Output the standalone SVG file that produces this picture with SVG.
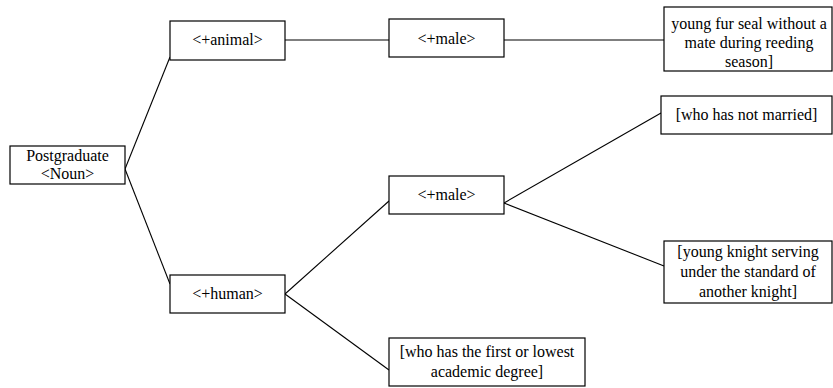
<svg xmlns="http://www.w3.org/2000/svg" width="833" height="388" viewBox="0 0 833 388" font-family="'Liberation Serif', 'Times New Roman', serif">
<defs>
<style>
.box{fill:#fff;stroke:#000;stroke-width:1.2}
.edge{stroke:#000;stroke-width:1.1;fill:none}
text{font-family:'Liberation Serif','Times New Roman',serif;font-size:16px;text-anchor:middle;fill:#000}
</style>
</defs>
<rect width="833" height="388" fill="#fff"/>
<g id="connectors">
<line class="edge" x1="125" y1="169" x2="170" y2="57"/>
<line class="edge" x1="125" y1="169" x2="170" y2="284"/>
<line class="edge" x1="285" y1="40" x2="389" y2="40"/>
<line class="edge" x1="504" y1="40" x2="664" y2="40"/>
<line class="edge" x1="285" y1="294" x2="389" y2="201"/>
<line class="edge" x1="285" y1="294" x2="389" y2="370"/>
<line class="edge" x1="504" y1="203" x2="661" y2="113"/>
<line class="edge" x1="504" y1="203" x2="664" y2="266"/>
</g>
<g id="postgraduate">
<rect class="box" x="10" y="146" width="115" height="38"/>
<text x="67.5" y="161">Postgraduate</text>
<text x="67.5" y="179">&lt;Noun&gt;</text>
</g>
<g id="animal">
<rect class="box" x="170" y="21" width="115" height="39"/>
<text x="227.5" y="45">&lt;+animal&gt;</text>
</g>
<g id="male-animal">
<rect class="box" x="389" y="19" width="115" height="38"/>
<text x="446.5" y="44">&lt;+male&gt;</text>
</g>
<g id="fur-seal">
<rect class="box" x="664" y="7" width="168" height="64"/>
<text x="749" y="29">young fur seal without a</text>
<text x="749" y="48">mate during reeding</text>
<text x="749" y="67">season]</text>
</g>
<g id="human">
<rect class="box" x="170" y="275" width="115" height="38"/>
<text x="227.5" y="299">&lt;+human&gt;</text>
</g>
<g id="male-human">
<rect class="box" x="389" y="176" width="115" height="38"/>
<text x="446.5" y="200">&lt;+male&gt;</text>
</g>
<g id="not-married">
<rect class="box" x="661" y="96" width="171" height="38"/>
<text x="746.5" y="120">[who has not married]</text>
</g>
<g id="knight">
<rect class="box" x="664" y="241" width="168" height="62"/>
<text x="748" y="257">[young knight serving</text>
<text x="748" y="277">under the standard of</text>
<text x="748" y="297">another knight]</text>
</g>
<g id="academic">
<rect class="box" x="389" y="338" width="196" height="48"/>
<text x="487" y="357">[who has the first or lowest</text>
<text x="487" y="377">academic degree]</text>
</g>
</svg>
